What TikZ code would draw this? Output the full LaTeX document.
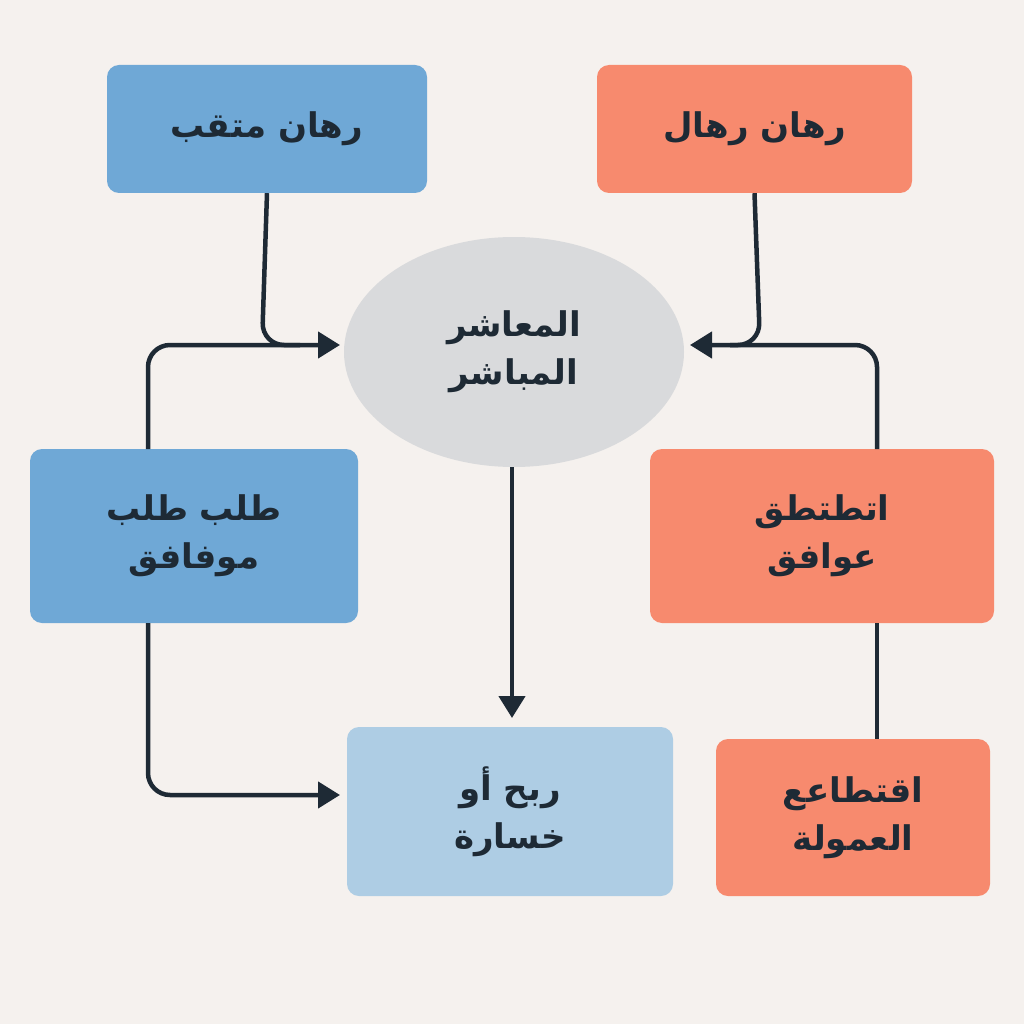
\documentclass[tikz,border=0pt]{standalone}
\usepackage{fontspec}
\newfontfamily\arabicfont[Script=Arabic]{DejaVu Sans}
\TeXXeTstate=1
\usetikzlibrary{arrows.meta,shapes.geometric}
\definecolor{bg}{HTML}{F5F1EE}
\definecolor{bluebox}{HTML}{6FA8D6}
\definecolor{salmon}{HTML}{F78A6E}
\definecolor{grayell}{HTML}{D9DADC}
\definecolor{lightblue}{HTML}{AECDE4}
\definecolor{ink}{HTML}{1E2A35}
\tikzset{
 box/.style={rounded corners=12pt,minimum width=#1,align=center,font=\arabicfont\bfseries\fontsize{34}{48}\selectfont,text=ink},
 conn/.style={draw=ink,line width=4.5pt,rounded corners=22pt},
 arr/.style={conn,-{Triangle[length=22pt,width=26pt]}}
}
\begin{document}
\begin{tikzpicture}[x=1pt,y=-1pt]
\fill[bg] (0,0) rectangle (1024,1024);
\useasboundingbox (0,0) rectangle (1024,1024);
\node[box=320pt,fill=bluebox,minimum height=128pt] (tl) at (267,129) {\beginR رهان متقب\endR};
\node[box=315pt,fill=salmon,minimum height=128pt] (tr) at (754.5,129) {\beginR رهان رهال\endR};
\node[ellipse,fill=grayell,minimum width=340pt,minimum height=230pt,align=center,font=\arabicfont\bfseries\fontsize{34}{48}\selectfont,text=ink] (ell) at (514,352) {\beginR المعاشر\endR\\\beginR المباشر\endR};
\node[box=328pt,fill=bluebox,minimum height=174pt] (ml) at (194,536) {\beginR طلب طلب\endR\\\beginR موفافق\endR};
\node[box=344pt,fill=salmon,minimum height=174pt] (mr) at (822,536) {\beginR اتطتطق\endR\\\beginR عوافق\endR};
\node[box=326pt,fill=lightblue,minimum height=169pt] (bc) at (510,811.5) {\beginR ربح أو\endR\\\beginR خسارة\endR};
\node[box=274pt,fill=salmon,minimum height=157pt] (br) at (853,817.5) {\beginR اقتطاعع\endR\\\beginR العمولة\endR};
\coordinate (aL) at (340,345);
\coordinate (aR) at (690,345);
\coordinate (aB) at (340,795);
\draw[arr] (tl.south) -- (262,345) -- (aL);
\draw[conn] (148,449) -- (148,345) -- (300,345);
\draw[arr] (tr.south) -- (760,345) -- (aR);
\draw[conn] (877,449) -- (877,345) -- (730,345);
\draw[arr] (512,467) -- (512,718);
\draw[arr] (148,623) -- (148,795) -- (aB);
\draw[conn,rounded corners=0pt] (877,623) -- (877,739);
\end{tikzpicture}
\end{document}
